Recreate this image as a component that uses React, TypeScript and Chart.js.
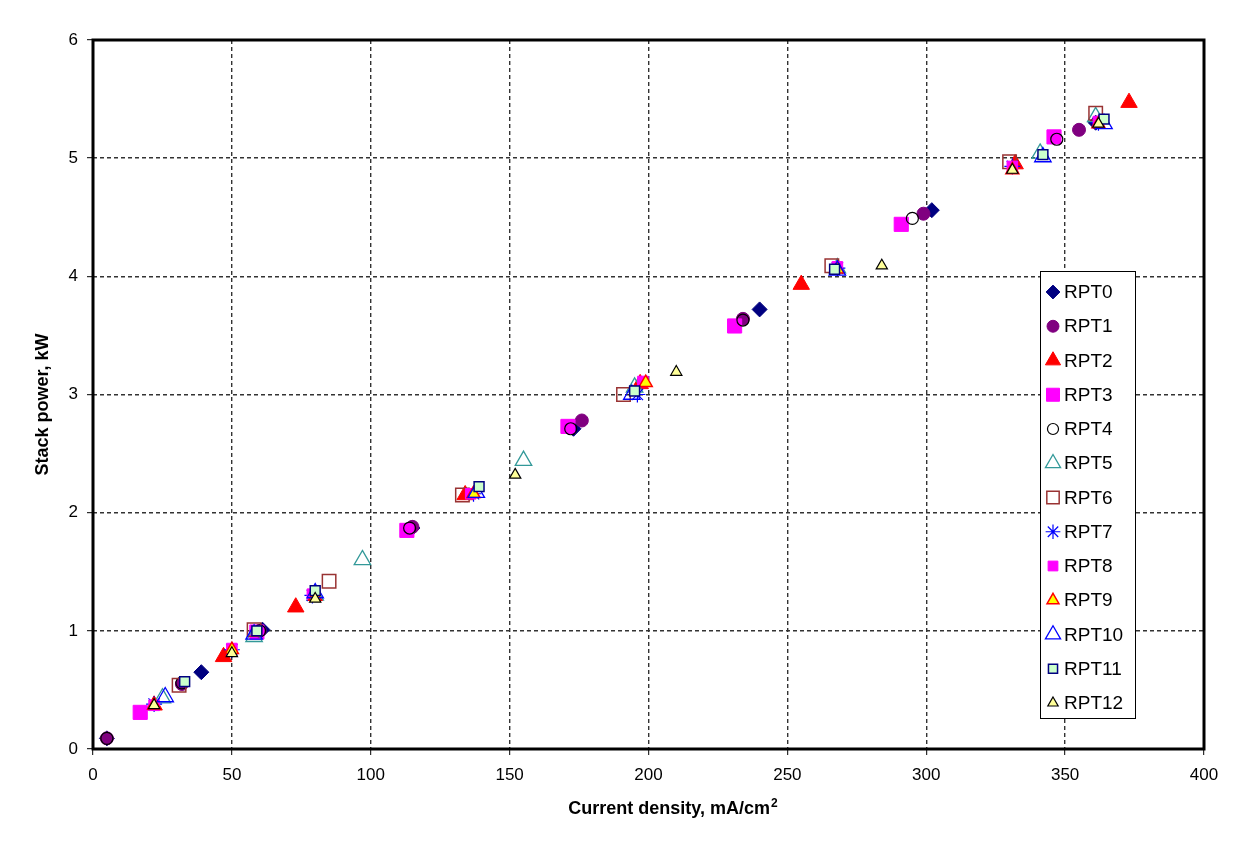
import React, { useEffect, useRef } from 'react';
import { Chart, registerables } from 'chart.js';
import * as helpers from 'chart.js/helpers';

Chart.register(...registerables);

const seriesNames = ['RPT0', 'RPT1', 'RPT2', 'RPT3', 'RPT4', 'RPT5', 'RPT6', 'RPT7', 'RPT8', 'RPT9', 'RPT10', 'RPT11', 'RPT12'];

const rpt0X = [5, 39, 61, 115, 173, 240, 302, 361];
const rpt0Y = [0.09, 0.65, 1.01, 1.87, 2.71, 3.72, 4.56, 5.3];
const rpt1X = [5, 32, 60, 115, 176, 234, 299, 355];
const rpt1Y = [0.09, 0.55, 1.0, 1.88, 2.78, 3.64, 4.53, 5.24];
const rpt2X = [22, 47, 73, 134, 197, 255, 332, 373];
const rpt2Y = [0.37, 0.78, 1.2, 2.15, 3.09, 3.93, 4.95, 5.47];
const rpt3X = [17, 59, 113, 171, 231, 291, 346];
const rpt3Y = [0.31, 0.99, 1.85, 2.73, 3.58, 4.44, 5.18];
const rpt4X = [5, 32, 60, 114, 172, 234, 295, 347];
const rpt4Y = [0.09, 0.56, 1.0, 1.87, 2.71, 3.63, 4.49, 5.16];
const rpt5X = [25, 58, 80, 97, 155, 195, 268, 341, 361];
const rpt5Y = [0.43, 0.95, 1.3, 1.6, 2.44, 3.06, 4.07, 5.04, 5.35];
const rpt6X = [31, 58, 85, 133, 191, 266, 330, 361];
const rpt6Y = [0.54, 1.01, 1.42, 2.15, 3.0, 4.09, 4.97, 5.38];
const rpt7X = [22, 50, 79, 137, 196, 268, 331, 362];
const rpt7Y = [0.38, 0.84, 1.3, 2.16, 3.0, 4.07, 4.93, 5.3];
const rpt8X = [22, 50, 79, 136, 198, 268, 331, 362];
const rpt8Y = [0.37, 0.85, 1.31, 2.16, 3.11, 4.08, 4.93, 5.31];
const rpt9X = [22, 50, 80, 137, 199, 268, 331, 362];
const rpt9Y = [0.37, 0.84, 1.29, 2.16, 3.1, 4.06, 4.9, 5.29];
const rpt10X = [26, 58, 80, 138, 194, 268, 342, 364];
const rpt10Y = [0.44, 0.97, 1.32, 2.17, 3.0, 4.05, 5.01, 5.29];
const rpt11X = [33, 59, 80, 139, 195, 267, 342, 364];
const rpt11Y = [0.57, 1.0, 1.34, 2.22, 3.03, 4.06, 5.03, 5.33];
const rpt12X = [22, 50, 80, 152, 210, 284, 331, 362];
const rpt12Y = [0.37, 0.81, 1.27, 2.32, 3.19, 4.09, 4.9, 5.29];

const xValues = [rpt0X, rpt1X, rpt2X, rpt3X, rpt4X, rpt5X, rpt6X, rpt7X, rpt8X, rpt9X, rpt10X, rpt11X, rpt12X];
const yValues = [rpt0Y, rpt1Y, rpt2Y, rpt3Y, rpt4Y, rpt5Y, rpt6Y, rpt7Y, rpt8Y, rpt9Y, rpt10Y, rpt11Y, rpt12Y];

const xTicks = [0, 50, 100, 150, 200, 250, 300, 350, 400];
const yTicks = [0, 1, 2, 3, 4, 5, 6];

const xTitleMain = 'Current density, mA/cm';
const xTitleSup = '2';
const yTitle = 'Stack power, kW';

const FONT = '"Liberation Sans", Arial, sans-serif';
const NONE = 'rgba(0,0,0,0)';
const styles = [
  { pointStyle: 'rectRot', radius: 7.5, bg: '#000080', border: '#000080', bw: 1 },
  { pointStyle: 'circle', radius: 6.5, bg: '#800080', border: '#800080', bw: 1 },
  { pointStyle: 'triangle', radius: 9.5, bg: '#ff0000', border: '#ff0000', bw: 1 },
  { pointStyle: 'rect', radius: 10, bg: '#ff00ff', border: '#ff00ff', bw: 1 },
  { pointStyle: 'circle', radius: 6, bg: NONE, border: '#000000', bw: 1.2 },
  { pointStyle: 'triangle', radius: 9.5, bg: NONE, border: '#339999', bw: 1.3 },
  { pointStyle: 'rect', radius: 9.5, bg: NONE, border: '#993333', bw: 1.5 },
  { pointStyle: 'star', radius: 8, bg: NONE, border: '#0000ff', bw: 1.2 },
  { pointStyle: 'rect', radius: 7.5, bg: '#ff00ff', border: '#ff00ff', bw: 1 },
  { pointStyle: 'triangle', radius: 7.5, bg: '#ffff00', border: '#ff0000', bw: 1.5 },
  { pointStyle: 'triangle', radius: 9.5, bg: NONE, border: '#0000ff', bw: 1.3 },
  { pointStyle: 'rect', radius: 7, bg: '#ccffcc', border: '#000080', bw: 1.5 },
  { pointStyle: 'triangle', radius: 6.5, bg: '#ffff99', border: '#000000', bw: 1.2 },
];

const frameAndLegend = {
  id: 'frameAndLegend',
  beforeDatasetsDraw(chart: any) {
    const { ctx, chartArea } = chart;
    ctx.save();
    ctx.strokeStyle = '#000';
    ctx.lineWidth = 3;
    ctx.strokeRect(chartArea.left, chartArea.top, chartArea.right - chartArea.left, chartArea.bottom - chartArea.top);
    ctx.restore();
  },
  afterDraw(chart: any) {
    const { ctx, chartArea } = chart;
    // axis titles
    ctx.save();
    ctx.fillStyle = '#000';
    ctx.textBaseline = 'alphabetic';
    ctx.textAlign = 'left';
    ctx.font = `bold 18px ${FONT}`;
    const w1 = ctx.measureText(xTitleMain).width;
    ctx.font = `bold 12px ${FONT}`;
    const w2 = ctx.measureText(xTitleSup).width;
    const cx = (chartArea.left + chartArea.right) / 2 + 24;
    const bx = cx - (w1 + w2) / 2;
    const by = chartArea.bottom + 65;
    ctx.font = `bold 18px ${FONT}`;
    ctx.fillText(xTitleMain, bx, by);
    ctx.font = `bold 12px ${FONT}`;
    ctx.fillText(xTitleSup, bx + w1 + 1, by - 7);
    ctx.translate(chartArea.left - 50, (chartArea.top + chartArea.bottom) / 2 + 10);
    ctx.rotate(-Math.PI / 2);
    ctx.textAlign = 'center';
    ctx.textBaseline = 'middle';
    ctx.font = `bold 18px ${FONT}`;
    ctx.fillText(yTitle, 0, 0);
    ctx.restore();

    // legend
    const left = chartArea.right - 164;
    const top = chartArea.top + 231;
    const w = 95;
    const h = 447;
    ctx.save();
    ctx.fillStyle = '#fff';
    ctx.fillRect(left, top, w, h);
    ctx.strokeStyle = '#000';
    ctx.lineWidth = 1;
    ctx.strokeRect(left + 0.5, top + 0.5, w, h);
    ctx.font = `19px ${FONT}`;
    ctx.textBaseline = 'middle';
    ctx.textAlign = 'left';
    chart.data.datasets.forEach((ds: any, i: number) => {
      const y = top + 21 + i * 34.25;
      const st = styles[i];
      ctx.save();
      ctx.fillStyle = st.bg;
      ctx.strokeStyle = st.border;
      ctx.lineWidth = st.bw;
      helpers.drawPoint(ctx, { pointStyle: st.pointStyle, radius: st.radius * 0.92, borderWidth: st.bw, rotation: 0 } as any, left + 13, y);
      ctx.restore();
      ctx.fillStyle = '#000';
      ctx.fillText(ds.label, left + 24, y + 1);
    });
    ctx.restore();
  },
};

export default function App() {
  const ref = useRef<HTMLCanvasElement | null>(null);
  useEffect(() => {
    if (!ref.current) return;
    const datasets = seriesNames.map((name, i) => ({
      label: name,
      data: xValues[i].map((x, j) => ({ x, y: yValues[i][j] })),
      pointStyle: styles[i].pointStyle,
      pointRadius: styles[i].radius,
      pointBackgroundColor: styles[i].bg,
      pointBorderColor: styles[i].border,
      pointBorderWidth: styles[i].bw,
      backgroundColor: styles[i].bg,
      borderColor: styles[i].border,
      showLine: false,
      order: seriesNames.length - i,
    }));
    const tickFont = { family: FONT, size: 17 };
    const chart = new Chart(ref.current, {
      type: 'scatter',
      data: { datasets: datasets as any },
      options: {
        responsive: false,
        animation: false,
        layout: { padding: { left: 0, top: 40, right: 32, bottom: 0 } },
        plugins: { legend: { display: false }, tooltip: { enabled: false } },
        scales: {
          x: {
            type: 'linear',
            min: 0,
            max: 400,
            afterBuildTicks: (s: any) => { s.ticks = xTicks.map((v) => ({ value: v })); },
            afterFit: (s: any) => { s.height = 101; },
            ticks: { color: '#000', font: tickFont, padding: 10, maxRotation: 0 },
            grid: { color: '#333', lineWidth: 1.4, tickLength: 6, tickColor: '#000', tickWidth: 1, tickBorderDash: [] },
            border: { display: false, dash: [4, 3] },
          },
          y: {
            type: 'linear',
            min: 0,
            max: 6,
            afterBuildTicks: (s: any) => { s.ticks = yTicks.map((v) => ({ value: v })); },
            afterFit: (s: any) => { s.width = 93; },
            ticks: { color: '#000', font: tickFont, padding: 9 },
            grid: { color: '#333', lineWidth: 1.4, tickLength: 6, tickColor: '#000', tickWidth: 1, tickBorderDash: [] },
            border: { display: false, dash: [4, 3] },
          },
        },
      },
      plugins: [frameAndLegend],
    });
    return () => chart.destroy();
  }, []);
  return (
    <div style={{ position: 'absolute', left: 0, top: 0, width: 1236, height: 850, background: '#fff' }}>
      <canvas ref={ref} width={1236} height={850} style={{ display: 'block' }} />
    </div>
  );
}
